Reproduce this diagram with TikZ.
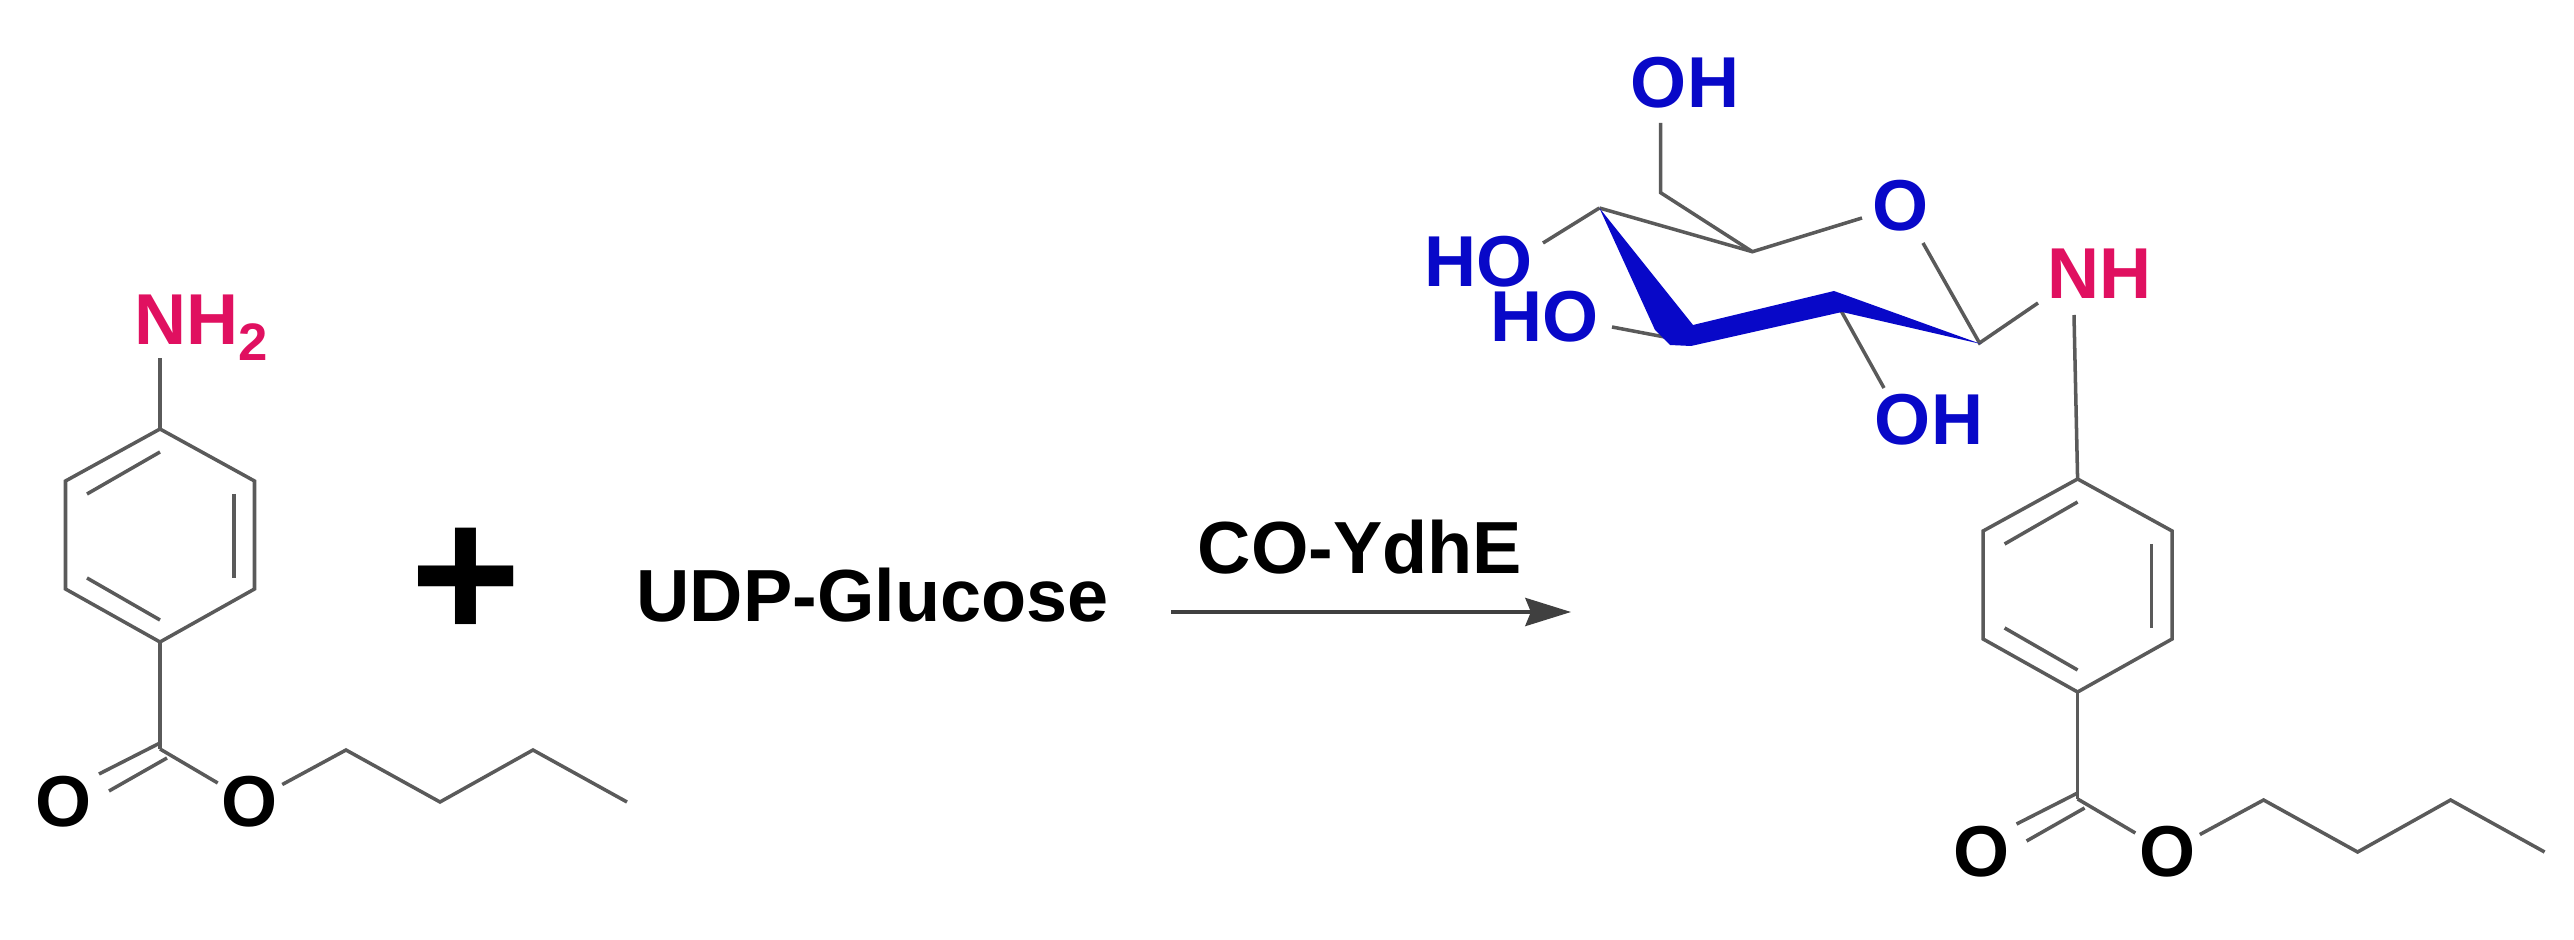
\documentclass[tikz,border=0pt]{standalone}
\usepackage{fontspec}
\setmainfont{Liberation Sans}
\usetikzlibrary{arrows.meta}

\definecolor{bondgray}{RGB}{90,90,90}
\definecolor{sugarblue}{RGB}{8,8,200}
\definecolor{aminopink}{RGB}{224,16,96}

\tikzset{
    atomlabel/.style = {font = \bfseries\fontsize{20.5}{20.5}\selectfont, inner sep = 1pt},
    reagent/.style = {font = \bfseries\fontsize{21}{21}\selectfont, inner sep = 0pt, anchor = base},
    bond/.style = {draw = bondgray, line width = 1pt},
    butylring/.pic = {
        \coordinate (c4) at (0,0);
        \coordinate (c3r) at (94.5,52);
        \coordinate (c2r) at (94.5,160);
        \coordinate (c1) at (0,213);
        \coordinate (c2l) at (-94.5,160);
        \coordinate (c3l) at (-94.5,52);
        \coordinate (cc) at (0,320);
        \draw[bond, line join = miter] (c4) -- (c3r) -- (c2r) -- (c1) -- (c2l) -- (c3l) -- cycle;
        % inner lines of the ring
        \coordinate (i1a) at (-73,65);
        \coordinate (i1b) at (0,23);
        \coordinate (i2a) at (74,65);
        \coordinate (i2b) at (74,149);
        \coordinate (i3a) at (-73,149);
        \coordinate (i3b) at (0,191);
        \draw[bond] (i1a) -- (i1b);
        \draw[bond] (i2a) -- (i2b);
        \draw[bond] (i3a) -- (i3b);
        % ester
        \node[atomlabel] (ok) at (-96,373) {O};
        \node[atomlabel] (oe) at (90,373) {O};
        \coordinate (d1a) at (-61,345);
        \coordinate (d1b) at (0,314);
        \coordinate (d2a) at (-51,362);
        \coordinate (d2b) at (7,329);
        \draw[bond] (c1) -- (cc);
        \draw[bond] (d1a) -- (d1b);
        \draw[bond] (d2a) -- (d2b);
        \draw[bond] (cc) -- (oe);
        % butyl chain
        \coordinate (b1) at (186,321);
        \coordinate (b2) at (280,373);
        \coordinate (b3) at (373,321);
        \coordinate (b4) at (467,373);
        \draw[bond] (oe) -- (b1) -- (b2) -- (b3) -- (b4);
    }
}

\begin{document}
\begin{tikzpicture}[
    x = 0.01cm, % one unit is one pixel of the reference
    y = -0.01cm,
    > = {Stealth[length=13pt,width=8pt,inset=1.6pt]} % arrow head style
    ]
    \path[use as bounding box] (0,0) rectangle (2574,940);

    % left molecule
    \pic (lft-) at (160,429) {butylring};
    \node[atomlabel, text = aminopink, anchor = base west, inner sep = 0pt] (nh2) at (134,345)
        {NH\raisebox{-4.3pt}{\fontsize{15}{15}\selectfont 2}};
    \coordinate (nh2end) at (160,358);
    \draw[bond] (lft-c4) -- (nh2end);

    \node[font = \bfseries\fontsize{54}{54}\selectfont, inner sep = 0pt] (plus) at (466,584) {+};
    \node[reagent] (udp) at (872.5,622) {UDP-Glucose};
    \node[reagent] (enzyme) at (1360,574) {CO-YdhE};

    \coordinate (rxnstart) at (1171,612);
    \coordinate (rxnend) at (1571,612);
    \draw[->, draw = black!75, line width = 1pt] (rxnstart) -- (rxnend);

    % right molecule
    \pic (rgt-) at (2077.6,479) {butylring};
    \node[atomlabel, text = aminopink, inner sep = 0pt] (nh) at (2099.6,274) {NH};
    \coordinate (nhdown) at (2074,315);
    \coordinate (nhleft) at (2038,303);
    \draw[bond] (rgt-c4) -- (nhdown);

    % sugar ring
    \coordinate (s1) at (1979.5,343);
    \coordinate (s2) at (1834,298);
    \coordinate (s3) at (1670,338);
    \coordinate (s4) at (1599.4,208);
    \coordinate (s5) at (1752.4,251.7);
    \coordinate (s6) at (1660.6,192.7);
    \node[atomlabel, text = sugarblue] (oring) at (1900.4,205.7) {O};
    \node[atomlabel, text = sugarblue] (oh6) at (1685,83) {OH};
    \node[atomlabel, text = sugarblue] (ho4) at (1479,262) {HO};
    \node[atomlabel, text = sugarblue] (ho3) at (1545,317) {HO};
    \node[atomlabel, text = sugarblue] (oh2) at (1929,420) {OH};
    \coordinate (oh6end) at (1660.6,123);
    \coordinate (ho4end) at (1543,243);
    \coordinate (ho3end) at (1612,327);
    \coordinate (oh2end) at (1884,388);
    \coordinate (oring5) at (1862,218);
    \coordinate (oring1) at (1923,243);

    \draw[bond] (s4) -- (s5) -- (oring5);
    \draw[bond] (oring1) -- (s1) -- (nhleft);
    \draw[bond] (s5) -- (s6) -- (oh6end);
    \draw[bond] (s4) -- (ho4end);
    \draw[bond] (s3) -- (ho3end);
    \draw[bond] (s2) -- (oh2end);

    % front edges of the ring
    \fill[sugarblue] (s4) -- (1655,330) -- (1670,345) -- (1691,346) -- (1842,312)
        -- (1981,344) -- (1834,291) -- (1693,325) -- cycle;
\end{tikzpicture}
\end{document}
